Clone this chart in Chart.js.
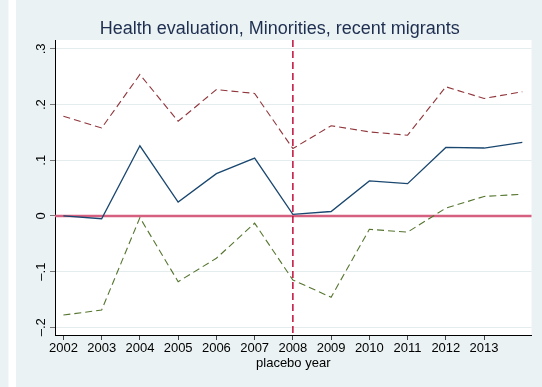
<!DOCTYPE html>
<html>
<head>
<meta charset="utf-8">
<script src="https://cdn.jsdelivr.net/npm/chart.js@4.4.0/dist/chart.umd.min.js"></script>
<style>
  html, body { margin: 0; padding: 0; background: #eaf2f3; }
  canvas { display: block; }
</style>
</head>
<body>
<canvas id="chart" width="542" height="387"></canvas>
<script>
// values
const years = [2002, 2003, 2004, 2005, 2006, 2007, 2008, 2009, 2010, 2011, 2012, 2013, 2014];
const estimate = [0, -0.005, 0.126, 0.025, 0.076, 0.104, 0.003, 0.008, 0.063, 0.058, 0.123, 0.122, 0.132];
const upperCI = [0.179, 0.158, 0.254, 0.17, 0.227, 0.22, 0.121, 0.162, 0.151, 0.145, 0.232, 0.211, 0.223];
const lowerCI = [-0.178, -0.169, -0.003, -0.118, -0.076, -0.013, -0.115, -0.146, -0.024, -0.029, 0.014, 0.035, 0.039];

const xTicks = [2002, 2003, 2004, 2005, 2006, 2007, 2008, 2009, 2010, 2011, 2012, 2013];
const yTicks = [-0.2, -0.1, 0, 0.1, 0.2, 0.3];
const yTickLabels = ["–.2", "–.1", "0", ".1", ".2", ".3"];

const placeboYear = 2008;
const refValue = 0;

const FONT = "'Liberation Sans', Arial, Helvetica, sans-serif";

function toPoints(vals) {
  return years.map((y, i) => ({ x: y, y: vals[i] }));
}

// background, reference lines and rotated y labels (stata style)
const stataLook = {
  id: "stataLook",
  beforeDraw(chart) {
    const ctx = chart.ctx;
    const a = chart.chartArea;
    ctx.save();
    ctx.fillStyle = "#eaf2f3";
    ctx.fillRect(0, 0, chart.width, chart.height);
    ctx.fillStyle = "#ffffff";
    ctx.fillRect(8.5, 0, 7.5, chart.height);
    ctx.fillRect(a.left, a.top, a.right - a.left, a.bottom - a.top);
    ctx.restore();
  },
  beforeDatasetsDraw(chart) {
    const ctx = chart.ctx;
    const a = chart.chartArea;
    const x = chart.scales.x;
    const y = chart.scales.y;
    ctx.save();
    // zero line
    const y0 = y.getPixelForValue(refValue);
    ctx.strokeStyle = "#d6607f";
    ctx.lineWidth = 2.5;
    ctx.beginPath();
    ctx.moveTo(a.left, y0);
    ctx.lineTo(a.right, y0);
    ctx.stroke();
    // placebo year line
    const xp = x.getPixelForValue(placeboYear);
    ctx.strokeStyle = "#c20d3a";
    ctx.lineWidth = 1.5;
    ctx.setLineDash([7, 4]);
    ctx.beginPath();
    ctx.moveTo(xp, a.top);
    ctx.lineTo(xp, a.bottom);
    ctx.stroke();
    ctx.restore();
  },
  afterDraw(chart) {
    const ctx = chart.ctx;
    const y = chart.scales.y;
    ctx.save();
    ctx.fillStyle = "#000";
    ctx.font = "13px " + FONT;
    ctx.textAlign = "center";
    ctx.textBaseline = "alphabetic";
    y.ticks.forEach(t => {
      const py = y.getPixelForValue(t.value);
      ctx.save();
      ctx.translate(44.5, py);
      ctx.rotate(-Math.PI / 2);
      ctx.fillText(t.label, 0, 0);
      ctx.restore();
    });
    ctx.restore();
  }
};

new Chart(document.getElementById("chart").getContext("2d"), {
  type: "line",
  data: {
    datasets: [
      {
        data: toPoints(upperCI),
        borderColor: "#90353b",
        borderWidth: 1.1,
        borderDash: [7, 4],
        pointRadius: 0,
        fill: false
      },
      {
        data: toPoints(estimate),
        borderColor: "#1a476f",
        borderWidth: 1.3,
        pointRadius: 0,
        fill: false
      },
      {
        data: toPoints(lowerCI),
        borderColor: "#55752f",
        borderWidth: 1.1,
        borderDash: [7, 4],
        pointRadius: 0,
        fill: false
      }
    ]
  },
  options: {
    responsive: false,
    animation: false,
    layout: { padding: { left: 28, right: 10.5, top: 0, bottom: 0 } },
    plugins: {
      legend: { display: false },
      tooltip: { enabled: false },
      title: {
        display: true,
        text: "Health evaluation, Minorities, recent migrants",
        color: "#1e2e50",
        font: { family: FONT, size: 18, weight: "normal" },
        padding: { top: 18.4, bottom: 0 }
      }
    },
    scales: {
      x: {
        type: "linear",
        min: 2001.78,
        max: 2014.24,
        afterBuildTicks: s => { s.ticks = xTicks.map(v => ({ value: v })); },
        afterFit: s => { s.height = 52; },
        grid: { drawOnChartArea: false, tickLength: 5, tickColor: "#444" },
        border: { color: "#000", width: 1 },
        ticks: {
          color: "#000",
          font: { family: FONT, size: 13 },
          padding: 1,
          maxRotation: 0,
          autoSkip: false,
          callback: v => String(v)
        },
        title: {
          display: true,
          text: "placebo year",
          color: "#000",
          font: { family: FONT, size: 13 },
          padding: { top: 0, bottom: 16.2 }
        }
      },
      y: {
        min: -0.2138,
        max: 0.316,
        afterBuildTicks: s => { s.ticks = yTicks.map(v => ({ value: v })); },
        afterFit: s => { s.width = 27; },
        grid: { color: "#e4ecee", lineWidth: 1, tickLength: 5, tickColor: "#777" },
        border: { color: "#000", width: 1 },
        ticks: {
          display: false,
          callback: (v, i) => yTickLabels[i]
        }
      }
    }
  },
  plugins: [stataLook]
});
</script>
</body>
</html>
